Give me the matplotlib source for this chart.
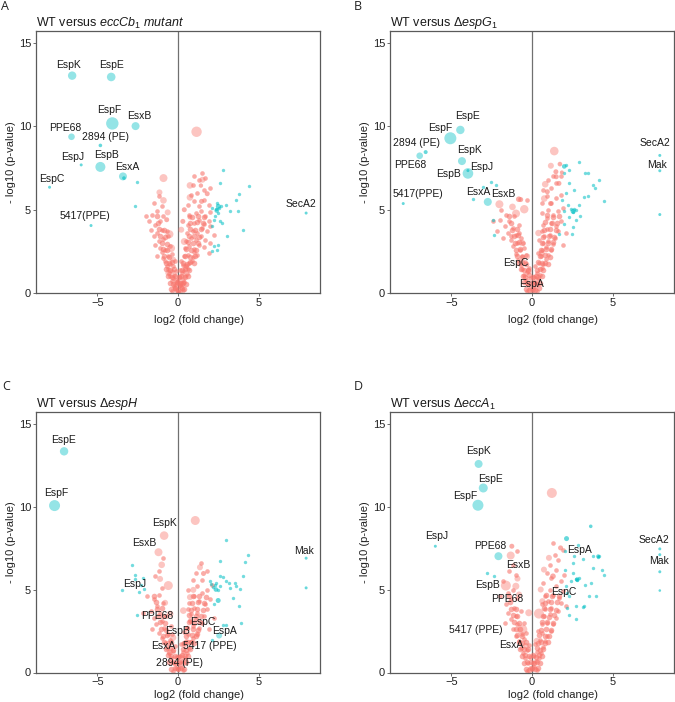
import matplotlib
matplotlib.use('Agg')
import matplotlib.pyplot as plt
import numpy as np

plt.rcParams['font.family'] = ['Liberation Sans', 'DejaVu Sans']
plt.rcParams['mathtext.fontset'] = 'custom'
plt.rcParams['mathtext.rm'] = 'Liberation Sans'
plt.rcParams['mathtext.it'] = 'Liberation Sans:italic'

RED = '#F8766D'
CYAN = '#00BFC4'

# ---------------- Panel A : WT versus eccCb1 mutant ----------------
A_red_x = [-0.35, -0.2, -0.1, 0, 0.1, 0.2, 0.3, -0.25, 0.15, -0.05, 0.05, 0.25,
           -0.4, -0.3, -0.15, 0.0, 0.12, 0.3, 0.4, -0.5, 0.45, 0.2, -0.2,
           -0.55, -0.4, -0.25, 0.25, 0.4, 0.55, -0.65, 0.6, -0.1, 0.15,
           -0.7, -0.5, -0.3, 0.3, 0.5, 0.7, -0.8, 0.85, -0.2, 0.2,
           -0.9, -0.6, -0.4, 0.35, 0.6, 0.9, -1.0, 1.0, 1.2, -1.3,
           -1.1, -0.8, -0.5, 0.45, 0.7, 1.0, 1.3, -1.4, 1.6, 1.9,
           -1.2, -0.9, -0.6, 0.5, 0.8, 1.1, 1.4, -1.5, 1.7, 2.0,
           -1.3, -1.0, -0.7, 0.55, 0.9, 1.2, 1.5, -1.7, 1.8, 2.2,
           -1.4, -1.1, -1.8, 0.6, 1.0, 1.3, 1.6, 1.9, -2.0, 2.0,
           -1.6, -1.3, 0.7, 1.1, 1.4, 1.7, 2.0, -0.9,
           -1.0, -1.5, 0.6, 1.0, 1.3, 1.6, 1.9, 0.8, 1.2, 1.6, 2.0, -1.2,
           0.9, 1.3, 1.7, 1.5, 1.0]
A_red_y = [0.1, 0.3, 0.2, 0.05, 0.15, 0.35, 0.2, 0.45, 0.5, 0.6, 0.4, 0.55,
           0.7, 0.9, 0.8, 0.75, 0.95, 0.8, 0.65, 1.0, 1.0, 0.6, 0.55,
           1.2, 1.35, 1.1, 1.2, 1.3, 1.15, 1.45, 1.45, 1.3, 1.4,
           1.6, 1.75, 1.6, 1.7, 1.6, 1.8, 1.9, 1.95, 1.9, 1.95,
           2.1, 2.2, 2.35, 2.2, 2.3, 2.15, 2.45, 2.45, 2.3, 2.2,
           2.7, 2.6, 2.85, 2.7, 2.8, 2.65, 2.9, 2.9, 2.75, 2.4,
           3.1, 3.25, 3.4, 3.1, 3.3, 3.2, 3.4, 3.4, 3.2, 3.0,
           3.6, 3.8, 3.7, 3.6, 3.75, 3.6, 3.9, 3.8, 3.7, 3.5,
           4.1, 4.3, 4.35, 4.1, 4.2, 4.4, 4.15, 4.3, 4.6, 4.0,
           4.7, 4.9, 4.7, 4.8, 4.9, 4.6, 4.85, 4.6,
           5.2, 5.4, 5.3, 5.5, 5.2, 5.6, 5.3, 5.9, 6.0, 6.2, 6.3, 5.8,
           6.5, 6.8, 6.9, 7.2, 7.0]
A_core_x = [-0.42, -0.18, 0.02, 0.22, 0.38, -0.52, -0.28, -0.08, 0.12, 0.33, 0.48,
            -0.61, -0.39, -0.17, 0.04, 0.21, 0.43, 0.62, -0.72, -0.47, -0.23, 0.27,
            0.46, 0.68, -0.77, -0.53, -0.36, 0.34, 0.57, 0.76, 0.97, -0.86, -0.57,
            0.44, 0.77, 1.06, -0.93, -0.66, 0.52, 0.83, 1.12, -1.02, -0.71, 0.63,
            0.93, 1.27, -1.09, -0.83, 0.66, 1.02, 1.33, -1.19, -0.88, 0.72, 1.06,
            1.42, -1.23, 0.77, 1.16, 1.52, -1.33, 0.86, 1.24, 1.63]
A_core_y = [0.22, 0.28, 0.18, 0.31, 0.24, 0.62, 0.57, 0.66, 0.59, 0.63, 0.55,
            1.03, 0.96, 1.05, 0.98, 1.04, 0.95, 1.02, 1.42, 1.37, 1.45, 1.39,
            1.43, 1.36, 1.83, 1.78, 1.86, 1.81, 1.77, 1.84, 1.79, 2.21, 2.18,
            2.24, 2.19, 2.23, 2.62, 2.58, 2.64, 2.57, 2.61, 3.02, 2.97, 3.04,
            2.99, 3.03, 3.43, 3.38, 3.41, 3.44, 3.37, 3.83, 3.77, 3.82, 3.79,
            3.85, 4.22, 4.18, 4.24, 4.19, 4.63, 4.58, 4.61, 4.57]
A_cyan_x = [2.76, 2.63, 4.4, 3.78, 3.62, 2.43, 3.0, 2.55, 2.35, 3.21, 3.72, 2.28,
            2.2, 2.6, 2.08, 4.0, 3.05, 2.45, 2.2, 2.41, 2.1, 2.5, 2.65, 2.7,
            2.12, -2.55, -2.69]
A_cyan_y = [7.41, 6.6, 6.4, 5.96, 5.56, 5.4, 5.3, 5.1, 5.06, 4.9, 4.9, 4.6,
            4.4, 4.3, 4.04, 3.76, 3.4, 2.87, 2.85, 2.6, 5.1, 4.8, 5.25, 4.2,
            2.55, 6.67, 5.22]
A_hi_x = [-6.56, -4.14, -4.07, -2.63, -6.6, -4.81, -6.0, -4.81, -3.41, -3.35,
          -7.96, -5.39, 7.94, 2.5, 2.4,
          1.15, -0.9, 0.74, 1.52, 1.42, -1.15, 0.74, -0.9, 1.81, 1.46, -0.64,
          0.39, -0.53, -0.43, 0.39, -0.7, 0.74, 0.3, -0.3, 0.5, -0.6, 0.2]
A_hi_y = [13.05, 12.97, 10.18, 10.02, 9.38, 8.86, 7.69, 7.57, 7.0, 6.9,
          6.35, 4.05, 4.8, 5.2, 4.95,
          9.68, 6.9, 6.46, 6.8, 6.45, 6.04, 5.74, 5.56, 5.96, 5.5, 4.84,
          5.0, 3.53, 2.69, 3.09, 4.4, 4.56, 4.3, 2.0, 1.6, 1.2, 3.8]
A_hi_r = [4.2, 4.3, 6.2, 4.0, 3.3, 1.8, 1.5, 5.0, 4.0, 1.8,
          1.5, 1.5, 1.5, 2.5, 2.3,
          5.2, 4.0, 3.3, 3.0, 2.2, 3.0, 3.3, 3.3, 2.5, 2.5, 3.0,
          2.5, 4.0, 4.0, 3.5, 2.5, 2.5, 2.5, 3.0, 3.0, 3.0, 3.0]
A_hi_grp = [1] * 15 + [0] * 22
A_lab = ['EspK', 'EspE', 'EspF', 'EsxB', 'PPE68', '2894 (PE)', 'EspJ', 'EspB',
         'EsxA', 'EspC', '5417(PPE)', 'SecA2']
A_lab_x = [-6.8, -4.1, -4.24, -2.39, -7.0, -4.49, -6.5, -4.44, -3.13, -7.84, -5.78, 7.6]
A_lab_y = [13.7, 13.7, 11.0, 10.6, 9.9, 9.36, 8.17, 8.29, 7.57, 6.87, 4.6, 5.34]

# ---------------- Panel B : WT versus espG1 ----------------
B_red_x = [-0.3, -0.15, 0, 0.15, 0.3, -0.25, 0.05, 0.25, -0.4, -0.1, 0.15, 0.4,
           -0.5, -0.3, 0.3, 0.5, -0.6, 0.6, -0.2, 0.2,
           -0.7, -0.45, 0.45, 0.7, -0.85, 0.85, -0.6, 0.55, 1.0, -1.0,
           -0.75, -0.5, 0.6, 0.85, 1.15, -1.15, -0.9, 0.7, 1.0, 1.3,
           -1.3, -0.7, -1.0, 0.75, 1.1, 1.4, -1.5, 0.6, 0.9, 1.6,
           -1.2, -1.7, -0.8, 0.7, 1.2, 1.5, -1.4, -2.0, 1.8, 0.9,
           -1.1, -1.6, 1.3, 1.6, 0.6, -1.9, 1.0, 1.9, -0.3,
           0.6, 1.2, 1.5, 0.9, 1.8, 0.7, 1.2, 1.5, 1.0, 1.3, 1.8,
           -0.8, -0.55, -0.4, 0.35, 0.45, -1.8, -2.2, -2.4, 2.1, 1.9, -1.3]
B_red_y = [0.1, 0.3, 0.15, 0.35, 0.1, 0.55, 0.6, 0.6, 0.8, 0.9, 0.95, 0.85,
           1.1, 1.25, 1.2, 1.1, 1.45, 1.5, 1.5, 1.6,
           1.7, 1.85, 1.8, 1.75, 2.0, 2.05, 2.2, 2.25, 2.3, 2.35,
           2.6, 2.7, 2.6, 2.75, 2.6, 2.8, 3.0, 3.0, 3.1, 2.95,
           3.2, 3.3, 3.5, 3.4, 3.5, 3.3, 3.6, 3.7, 3.85, 3.7,
           3.9, 4.0, 4.1, 4.1, 4.2, 4.05, 4.3, 4.4, 4.3, 4.5,
           4.6, 4.7, 4.7, 4.9, 4.8, 5.0, 5.0, 5.1, 5.6,
           5.4, 5.4, 5.7, 5.8, 5.9, 6.2, 6.3, 6.6, 6.8, 7.0, 7.0,
           3.6, 3.0, 2.3, 2.4, 3.2, 3.3, 3.7, 4.3, 3.6, 2.9, 3.44]
B_core_x = [-0.38, -0.16, 0.04, 0.19, 0.41, -0.49, -0.31, -0.06, 0.14, 0.29, 0.51,
            -0.58, -0.42, -0.21, 0.07, 0.24, 0.39, 0.59, -0.69, -0.51, -0.27, 0.31,
            0.49, 0.71, -0.81, -0.62, -0.39, 0.38, 0.61, 0.82, 1.01, -0.91, -0.63,
            0.47, 0.81, 1.11, -0.97, -0.72, 0.56, 0.88, 1.18, -1.07, -0.78, 0.61,
            0.97, 1.31, -1.14, -0.86, 0.69, 1.07, 1.39, -1.26, -0.95, 0.75, 1.12,
            1.46, -1.31, 0.81, 1.21, 1.57, -1.42, 0.9, 1.28, 1.68]
B_core_y = [0.24, 0.19, 0.27, 0.21, 0.29, 0.64, 0.58, 0.61, 0.67, 0.56, 0.62,
            1.01, 0.97, 1.06, 0.99, 1.03, 0.94, 1.05, 1.44, 1.38, 1.41, 1.36,
            1.46, 1.39, 1.81, 1.84, 1.77, 1.86, 1.79, 1.82, 1.76, 2.23, 2.17,
            2.21, 2.26, 2.18, 2.59, 2.64, 2.57, 2.62, 2.66, 3.01, 3.06, 2.98,
            3.02, 3.05, 3.41, 3.46, 3.39, 3.42, 3.36, 3.81, 3.86, 3.78, 3.84,
            3.8, 4.21, 4.26, 4.19, 4.23, 4.62, 4.66, 4.59, 4.64]
B_cyan_x = [2.08, 1.98, 3.27, 3.45, 4.14, 3.93, 2.28, 2.59, 2.08, 3.21, 2.9, 2.39,
            2.53, 2.7, 2.28, 1.98, 2.49, 2.92, 3.75, 4.46, 2.61, 2.72, 2.51, 1.69,
            -2.33, -2.53, -3.04, -3.66, -2.39, -2.26, 1.85, 2.2, 2.0, 3.0, 3.5, 2.3]
B_cyan_y = [7.68, 7.18, 7.22, 7.22, 6.78, 6.28, 6.58, 6.17, 6.01, 5.77, 5.27, 5.07,
            4.87, 5.0, 4.57, 4.17, 3.57, 7.88, 6.48, 5.53, 5.07, 4.37, 3.97, 3.57,
            3.46, 6.67, 6.37, 5.67, 4.41, 6.48, 5.6, 5.3, 4.9, 4.6, 5.8, 7.4]
B_hi_x = [-4.44, -5.06, -6.96, -6.59, -4.34, -3.97, -3.97, -2.74, -7.98, 7.92, 7.92, 7.92,
          2.55, 2.0,
          1.38, -2.02, -0.48, -0.99, 0.82, -0.82, 0.76, 1.17, 1.73, 1.48, 1.85, 1.5,
          0.95, -0.7, -1.21, 1.15, 1.67, -0.6, 0.4, -0.3, 0.6, -0.2]
B_hi_y = [9.79, 9.29, 8.24, 8.46, 7.92, 7.18, 7.35, 5.47, 5.37, 8.26, 7.34, 4.71,
          4.9, 7.6,
          8.52, 5.33, 5.03, 4.77, 6.53, 5.63, 5.67, 7.64, 7.74, 7.28, 7.24, 6.98,
          6.08, 5.61, 5.17, 5.37, 6.58, 3.0, 3.6, 2.2, 2.4, 1.3]
B_hi_r = [4.2, 6.0, 3.3, 2.0, 4.0, 5.3, 1.5, 4.0, 1.5, 1.5, 1.5, 1.5,
          2.5, 2.3,
          4.3, 4.0, 4.2, 4.0, 3.3, 2.8, 3.3, 3.0, 2.3, 2.5, 2.0, 2.5,
          2.5, 2.5, 3.3, 2.5, 2.5, 3.2, 3.2, 3.0, 3.0, 3.0]
B_hi_grp = [1] * 14 + [0] * 22
B_lab = ['EspE', 'EspF', '2894 (PE)', 'PPE68', 'EspK', 'EspJ', 'EspB', 'SecA2', 'Mak',
         '5417(PPE)', 'EsxA', 'EsxB', 'EspC', 'EspA']
B_lab_x = [-3.97, -5.68, -7.16, -7.57, -3.87, -3.09, -5.2, 7.65, 7.76, -7.06, -3.35, -1.81, -1.03, -0.02]
B_lab_y = [10.6, 9.93, 8.98, 7.68, 8.58, 7.58, 7.14, 8.98, 7.68, 5.93, 6.07, 5.93, 1.8, 0.55]

# ---------------- Panel C : WT versus espH ----------------
C_red_x = [-0.3, -0.15, 0, 0.15, 0.3, -0.25, 0.05, 0.25, -0.45, -0.1, 0.15, 0.45,
           -0.55, -0.3, 0.3, 0.55, -0.7, 0.7, -0.2, 0.2,
           -0.8, -0.5, 0.5, 0.8, -1.0, 0.95, -0.65, 0.65, 1.15, -1.2,
           -0.85, -0.45, 0.55, 0.9, 1.3, -1.35, -1.0, 0.75, 1.1, 1.5,
           -1.5, -0.75, -1.1, 0.8, 1.2, 1.6, -1.7, 0.6, 1.0, 1.8,
           -1.3, -0.9, 0.7, 1.3, 1.7, -1.5, 2.0, 1.0, -1.2, 1.5,
           0.6, 1.8, -1.0, 1.2, 2.1, 0.9, 1.5, -1.4, 1.1, 1.8,
           -1.2, -0.9, 1.4, -2.2, -1.9, 0.35, -0.35, 2.2, 1.9, -1.6]
C_red_y = [0.1, 0.3, 0.2, 0.35, 0.15, 0.6, 0.55, 0.7, 0.85, 0.95, 1.0, 0.9,
           1.2, 1.3, 1.25, 1.15, 1.5, 1.5, 1.6, 1.7,
           1.8, 1.95, 1.9, 1.85, 2.1, 2.1, 2.3, 2.3, 2.35, 2.4,
           2.7, 2.8, 2.7, 2.8, 2.7, 2.9, 3.1, 3.1, 3.2, 3.0,
           3.3, 3.4, 3.6, 3.5, 3.6, 3.4, 3.7, 3.8, 3.9, 3.8,
           4.0, 4.2, 4.2, 4.3, 4.1, 4.4, 4.4, 4.6, 4.7, 4.8,
           5.0, 5.0, 5.1, 5.2, 5.3, 5.6, 5.6, 5.8, 6.0, 6.1,
           6.1, 6.9, 6.6, 3.6, 4.6, 2.45, 2.3, 3.3, 2.6, 2.6]
C_core_x = [-0.41, -0.21, 0.01, 0.17, 0.36, -0.54, -0.33, -0.11, 0.09, 0.31, 0.47,
            -0.63, -0.44, -0.19, 0.02, 0.26, 0.42, 0.64, -0.74, -0.52, -0.29, 0.29,
            0.52, 0.73, -0.84, -0.61, -0.41, 0.37, 0.59, 0.81, 1.02, -0.94, -0.66,
            0.51, 0.84, 1.12, -1.04, -0.76, 0.57, 0.91, 1.21, -1.12, -0.81, 0.67,
            1.01, 1.34, -1.21, -0.92, 0.71, 1.09, 1.43, -1.32, -0.99, 0.79, 1.17,
            1.53, -1.37, 0.86, 1.27, 1.64, -1.47, 0.94, 1.33, 1.74]
C_core_y = [0.21, 0.26, 0.19, 0.28, 0.23, 0.61, 0.66, 0.57, 0.63, 0.59, 0.65,
            1.04, 0.98, 1.02, 0.95, 1.06, 0.99, 1.01, 1.41, 1.46, 1.38, 1.43,
            1.37, 1.44, 1.83, 1.79, 1.85, 1.78, 1.84, 1.81, 1.77, 2.22, 2.26,
            2.19, 2.24, 2.21, 2.63, 2.59, 2.66, 2.61, 2.58, 3.04, 2.99, 3.03,
            2.97, 3.06, 3.42, 3.39, 3.45, 3.38, 3.41, 3.82, 3.87, 3.79, 3.83,
            3.78, 4.23, 4.19, 4.25, 4.21, 4.64, 4.6, 4.63, 4.58]
C_cyan_x = [3.0, 4.34, 4.14, 2.59, -2.86, -2.65, -2.14, -2.65, -3.48, -2.1, -2.39, -2.51,
            2.59, 2.04, 2.18, 2.3, 2.45, 2.6, 2.35, 3.52, 3.83, 3.79, 3.93, 2.8,
            3.0, 2.08, 3.13, 3.21, 3.62, 3.4, 2.76, 3.0, 1.98, 2.2, 4.0, -2.3]
C_cyan_y = [7.99, 7.09, 6.65, 6.69, 6.45, 5.88, 5.7, 5.64, 4.98, 5.04, 4.84, 3.47,
            5.8, 5.34, 5.14, 5.3, 5.0, 5.2, 5.4, 5.4, 5.04, 3.98, 2.97, 2.87,
            2.89, 1.93, 5.4, 5.1, 5.2, 4.5, 5.74, 5.5, 5.54, 4.1, 5.8, 5.3]
C_hi_x = [-7.06, -7.65, 2.49, 2.55, 2.35, 7.94, 7.94,
          1.07, -0.86, -1.21, -1.01, -0.6, 1.36, 1.52, -1.11, 0.95, 0.74, 0.33,
          -0.49, 0.84, -0.3, 0.4, -0.5, 0.2, -0.8, 1.2]
C_hi_y = [13.33, 10.06, 4.34, 2.23, 5.0, 6.89, 5.1,
          9.16, 8.25, 7.25, 6.49, 5.24, 6.34, 6.0, 5.64, 4.98, 4.54, 3.73,
          3.53, 3.13, 2.1, 1.7, 1.2, 0.9, 4.2, 2.3]
C_hi_r = [4.2, 5.5, 2.5, 3.0, 2.3, 1.5, 1.5,
          4.5, 4.3, 4.0, 3.3, 4.5, 3.0, 2.5, 3.0, 3.0, 3.0, 3.3,
          3.3, 3.5, 3.2, 3.2, 3.0, 3.0, 3.0, 3.0]
C_hi_grp = [1] * 7 + [0] * 19
C_lab = ['EspE', 'EspF', 'EspK', 'EsxB', 'EspJ', 'Mak', 'PPE68', 'EspC', 'EspB', 'EspA',
         'EsxA', '5417 (PPE)', '2894 (PE)']
C_lab_x = [-7.08, -7.53, -0.85, -2.08, -2.7, 7.8, -1.28, 1.52, -0.02, 2.9, -0.91, 1.98, 0.12]
C_lab_y = [14.02, 10.83, 9.02, 7.81, 5.34, 7.35, 3.43, 3.03, 2.53, 2.53, 1.57, 1.57, 0.58]

# ---------------- Panel D : WT versus eccA1 ----------------
D_red_x = [-0.3, -0.15, 0, 0.15, 0.3, -0.25, 0.05, 0.25, -0.45, -0.1, 0.15, 0.45,
           -0.55, -0.3, 0.3, 0.55, -0.7, 0.7, -0.2, 0.2,
           -0.8, -0.5, 0.5, 0.8, -1.0, 0.95, -0.6, 0.65, 1.15, -1.2,
           -0.9, -0.5, 0.6, 0.9, 1.3, -1.3, -1.0, 0.75, 1.1, 1.5,
           -1.5, -0.7, -1.1, 0.8, 1.2, 1.6, -1.6, 0.6, 1.0, 1.8,
           -1.3, -0.9, 0.8, 1.3, 1.7, -1.5, 1.9, 1.1, -1.2, 1.5,
           0.7, 1.8, -1.0, 1.2, 2.0, 0.9, 1.5, -1.4, 1.1, 1.6,
           -1.2, -0.9, 1.4, 1.9, 1.3, -1.8, -2.0, 0.35, -0.35, 2.1, -1.7]
D_red_y = [0.1, 0.3, 0.2, 0.35, 0.15, 0.6, 0.55, 0.7, 0.85, 0.95, 1.0, 0.9,
           1.2, 1.35, 1.25, 1.15, 1.5, 1.55, 1.65, 1.7,
           1.9, 2.0, 1.95, 1.9, 2.2, 2.2, 2.35, 2.4, 2.5, 2.6,
           2.9, 3.0, 2.9, 3.0, 2.9, 3.2, 3.4, 3.4, 3.5, 3.3,
           3.6, 3.7, 3.9, 3.8, 3.9, 3.7, 4.1, 4.1, 4.3, 4.2,
           4.4, 4.5, 4.6, 4.7, 4.5, 4.8, 4.9, 5.0, 5.0, 5.2,
           5.4, 5.5, 5.9, 5.7, 5.9, 6.0, 6.2, 6.1, 6.5, 6.8,
           6.5, 7.3, 7.1, 7.4, 7.8, 5.5, 4.6, 2.5, 2.4, 4.0, 3.0]
D_core_x = [-0.39, -0.19, 0.03, 0.21, 0.39, -0.51, -0.29, -0.09, 0.11, 0.32, 0.49,
            -0.62, -0.41, -0.18, 0.06, 0.23, 0.44, 0.61, -0.73, -0.49, -0.24, 0.28,
            0.47, 0.69, -0.83, -0.59, -0.38, 0.36, 0.58, 0.78, 0.98, -0.93, -0.64,
            0.46, 0.79, 1.08, -1.01, -0.74, 0.54, 0.86, 1.16, -1.11, -0.79, 0.64,
            0.96, 1.29, -1.18, -0.9, 0.68, 1.04, 1.36, -1.29, -0.97, 0.74, 1.09,
            1.47, -1.36, 0.8, 1.19, 1.56, -1.44, 0.88, 1.26, 1.66]
D_core_y = [0.23, 0.18, 0.29, 0.22, 0.26, 0.59, 0.64, 0.61, 0.56, 0.66, 0.6,
            1.02, 1.07, 0.97, 1.04, 0.96, 1.03, 0.99, 1.39, 1.44, 1.4, 1.46,
            1.38, 1.42, 1.86, 1.8, 1.83, 1.79, 1.85, 1.78, 1.82, 2.24, 2.2,
            2.25, 2.18, 2.22, 2.6, 2.65, 2.59, 2.63, 2.57, 3.05, 3.0, 3.02,
            3.07, 2.98, 3.44, 3.4, 3.43, 3.37, 3.45, 3.84, 3.8, 3.86, 3.81,
            3.79, 4.24, 4.2, 4.22, 4.26, 4.61, 4.65, 4.6, 4.62]
D_cyan_x = [2.82, 2.06, 4.15, 4.09, 3.13, 2.51, 3.75, 4.36, 2.51, 2.72, 3.64, 4.46,
            2.1, 2.3, 2.72, 3.13, 3.95, 3.54, 2.72, 2.3, 2.14, 2.04, 2.78, 2.9,
            3.21, 2.18, -2.76, -2.35, 2.4, 3.3, 2.6, 3.8]
D_cyan_y = [7.71, 7.31, 7.0, 6.97, 6.85, 6.61, 6.31, 6.2, 6.0, 5.64, 5.4, 5.9,
            5.2, 4.6, 4.0, 3.96, 4.64, 4.64, 3.25, 3.49, 4.8, 6.2, 5.6, 5.7,
            4.0, 3.9, 6.0, 5.8, 5.5, 5.3, 7.0, 7.0]
D_hi_x = [-3.31, -3.02, -3.35, -2.08, 3.64, -5.99, 7.92, 7.92, 7.92, 7.92, 2.14, 2.8, 4.1,
          1.23, -1.32, -1.25, -1.62, -0.9, -1.0, -0.8, 0.43, -0.6, 1.77, 1.05, 0.74,
          1.3, 0.54, 0.64, -0.4, 0.3, -0.2]
D_hi_y = [12.57, 11.12, 10.08, 7.01, 8.81, 7.61, 7.45, 7.1, 6.07, 4.94, 8.07, 5.6, 7.0,
          10.82, 7.05, 7.61, 5.24, 5.66, 5.2, 4.7, 3.55, 2.59, 7.51, 6.91, 6.2,
          5.8, 5.0, 4.3, 1.6, 1.9, 3.6]
D_hi_r = [4.0, 4.5, 5.5, 4.0, 1.8, 1.5, 1.5, 1.5, 1.5, 1.3, 2.5, 2.3, 2.0,
          5.0, 4.0, 2.5, 5.0, 3.0, 3.5, 3.0, 5.0, 5.0, 2.5, 3.0, 3.0,
          2.8, 3.0, 3.0, 3.2, 3.2, 3.5]
D_hi_grp = [1] * 13 + [0] * 18
D_lab = ['EspK', 'EspE', 'EspF', 'EspJ', 'PPE68', 'EsxB', 'EspB', 'PPE68', '5417 (PPE)',
         'EsxA', 'EspA', 'EspC', 'SecA2', 'Mak']
D_lab_x = [-3.29, -2.57, -4.12, -5.93, -2.59, -0.88, -2.78, -1.54, -3.46, -1.3, 2.92, 1.99, 7.55, 7.86]
D_lab_y = [13.37, 11.67, 10.66, 8.25, 7.65, 6.5, 5.26, 4.4, 2.59, 1.63, 7.41, 4.84, 8.01, 6.71]

TITLES = [r'WT versus $\mathit{eccCb}_{\mathit{1}}$ $\mathit{mutant}$',
          r'WT versus $\mathit{ΔespG}_{\mathit{1}}$',
          r'WT versus $\mathit{ΔespH}$',
          r'WT versus $\mathit{ΔeccA}_{\mathit{1}}$']
LETTERS = ['A', 'B', 'C', 'D']

W, H = 675, 702
fig = plt.figure(figsize=(W / 100, H / 100), dpi=100)


def r2s(r):
    return (2 * np.asarray(r, dtype=float) * 72 / 100) ** 2


def panel(rect, red_x, red_y, core_x, core_y, cyan_x, cyan_y, hx, hy, hr, hg,
          labs, lx, ly, title, letter, letter_xy, xlab_y):
    ax = fig.add_axes(rect)
    ax.set_xlim(-8.8, 8.8)
    ax.set_ylim(0, 15.7)
    ax.axvline(0, color='#707070', lw=0.9, zorder=1)
    ax.scatter(core_x, core_y, s=r2s(2.8), color=RED, alpha=0.6, lw=0, zorder=2)
    ax.scatter(red_x, red_y, s=r2s(2.3), color=RED, alpha=0.6, lw=0, zorder=2)
    ax.scatter(cyan_x, cyan_y, s=r2s(1.7), color=CYAN, alpha=0.55, lw=0, zorder=2)
    hx = np.asarray(hx); hy = np.asarray(hy); hr = np.asarray(hr); hg = np.asarray(hg)
    for g, c in ((0, RED), (1, CYAN)):
        m = hg == g
        big = m & (hr >= 3)
        small = m & (hr < 3)
        ax.scatter(hx[big], hy[big], s=r2s(hr[big]), color=c, alpha=0.42, lw=0, zorder=3)
        ax.scatter(hx[small], hy[small], s=r2s(hr[small]), color=c, alpha=0.6, lw=0, zorder=3)
    for t, x, y in zip(labs, lx, ly):
        ax.text(x, y, t, fontsize=7.5, color='#1a1a1a', ha='center', va='center', zorder=5)
    ax.set_xticks([-5, 0, 5])
    ax.set_xticklabels(['\u22125', '0', '5'])
    ax.set_yticks([0, 5, 10, 15])
    ax.tick_params(length=2, width=0.6, color='#555555', pad=1.5, labelsize=8,
                   labelcolor='#222222')
    for sp in ax.spines.values():
        sp.set_color('#5a5a5a')
        sp.set_linewidth(0.9)
    ax.set_xlabel('log2 (fold change)', fontsize=8, color='#222222')
    ax.xaxis.set_label_coords(0.5 + 21 / 284, xlab_y)
    ax.set_ylabel('- log10 (p-value)', fontsize=8, color='#222222')
    ax.yaxis.set_label_coords(-0.072, 0.5)
    ax.set_title(title, loc='left', fontsize=9, pad=3, color='#1a1a1a')
    fig.text(letter_xy[0] / W, 1 - letter_xy[1] / H, letter, fontsize=9,
             family='Open Sans', ha='center', va='center', color='#222222')
    return ax


top_rect_y = 1 - 293 / H
top_h = (293 - 31.5) / H
bot_rect_y = 1 - 672.5 / H
bot_h = (672.5 - 412) / H
aw = 284 / W

panel([36 / W, top_rect_y, aw, top_h], A_red_x, A_red_y, A_core_x, A_core_y,
      A_cyan_x, A_cyan_y, A_hi_x, A_hi_y, A_hi_r, A_hi_grp, A_lab, A_lab_x, A_lab_y,
      TITLES[0], 'A', (5, 6), -0.085)
panel([390 / W, top_rect_y, aw, top_h], B_red_x, B_red_y, B_core_x, B_core_y,
      B_cyan_x, B_cyan_y, B_hi_x, B_hi_y, B_hi_r, B_hi_grp, B_lab, B_lab_x, B_lab_y,
      TITLES[1], 'B', (358, 6), -0.085)
panel([36 / W, bot_rect_y, aw, bot_h], C_red_x, C_red_y, C_core_x, C_core_y,
      C_cyan_x, C_cyan_y, C_hi_x, C_hi_y, C_hi_r, C_hi_grp, C_lab, C_lab_x, C_lab_y,
      TITLES[2], 'C', (6, 386), -0.066)
panel([390 / W, bot_rect_y, aw, bot_h], D_red_x, D_red_y, D_core_x, D_core_y,
      D_cyan_x, D_cyan_y, D_hi_x, D_hi_y, D_hi_r, D_hi_grp, D_lab, D_lab_x, D_lab_y,
      TITLES[3], 'D', (358, 386), -0.066)

fig.savefig('out.png', dpi=100)
